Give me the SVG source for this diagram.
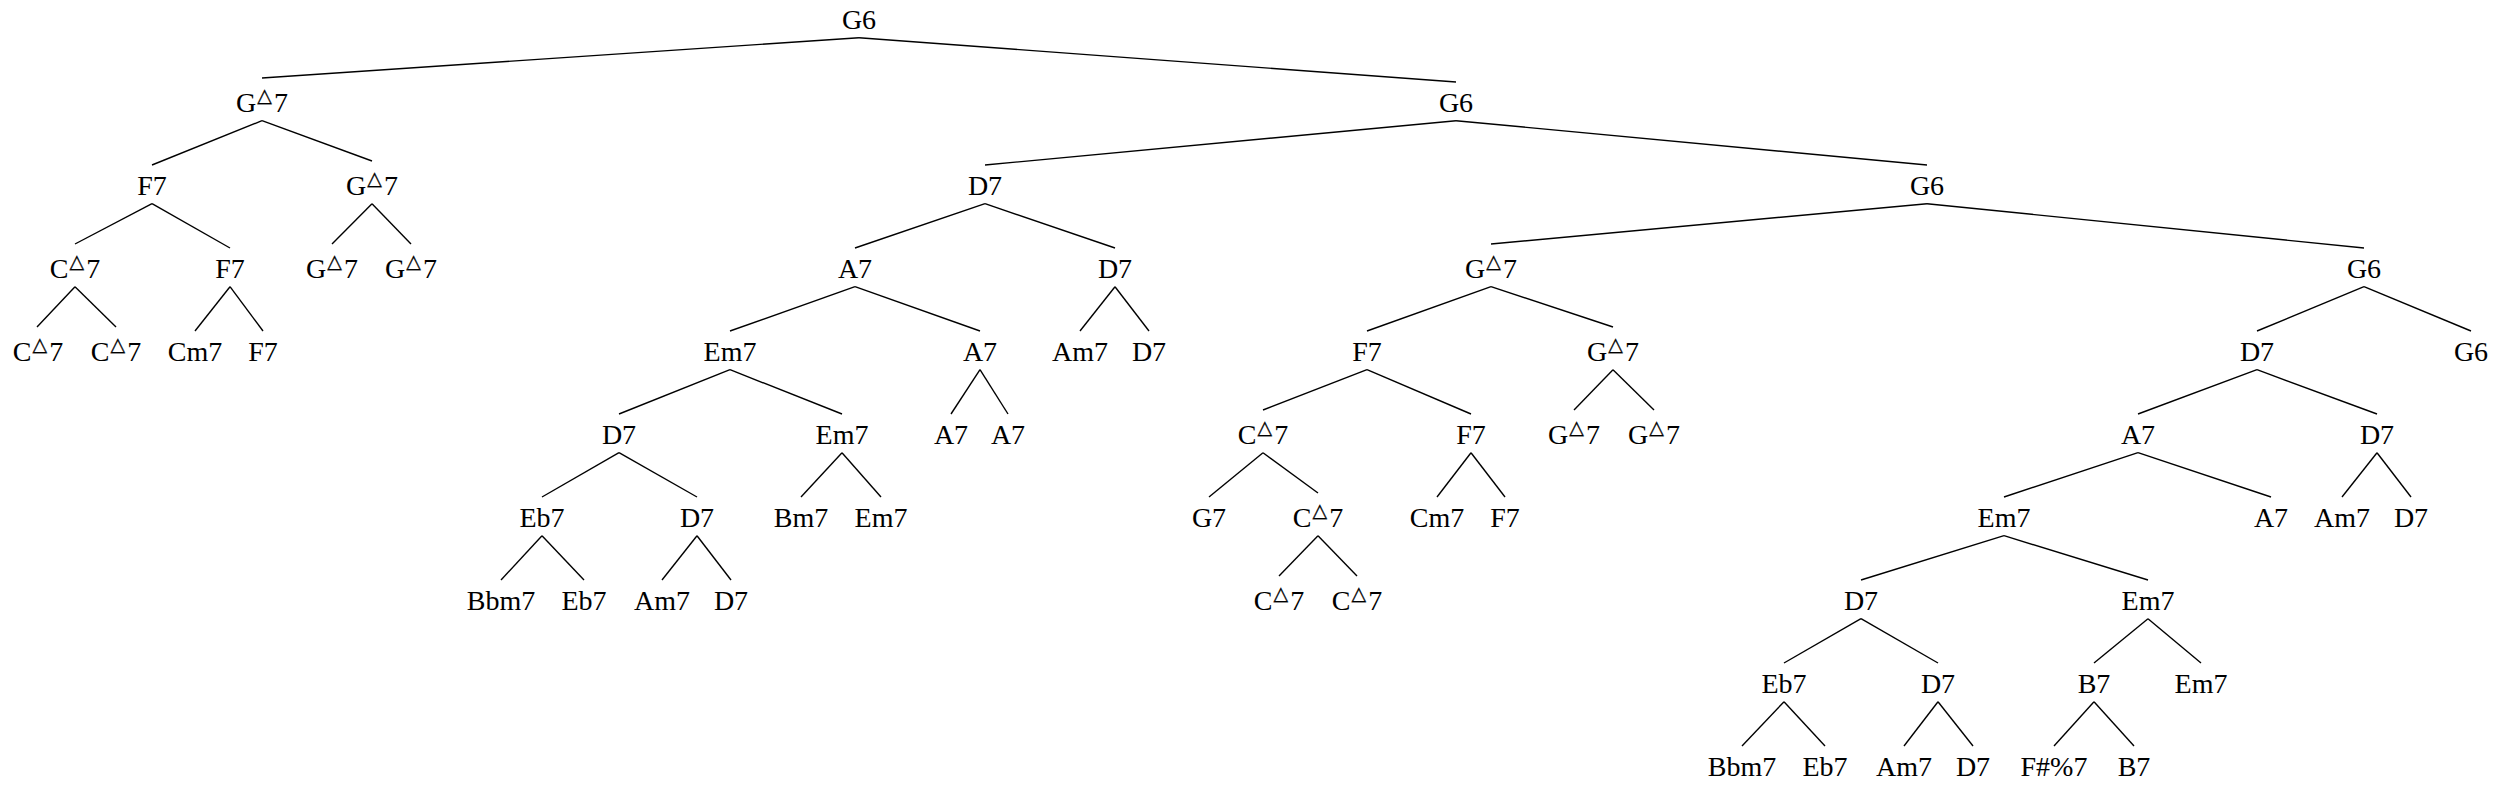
<svg xmlns="http://www.w3.org/2000/svg" width="2498" height="790" viewBox="0 0 2498 790">
<style>
text{font-family:"Liberation Serif","Times New Roman",serif;font-size:28px;fill:#000;text-anchor:middle}
.t{font-family:"DejaVu Sans",sans-serif;font-size:19px;stroke:#000;stroke-width:0.3}
#edges line{stroke:#000;stroke-width:1.4}
</style>
<rect width="2498" height="790" fill="#fff"/>
<g id="edges">
<line x1="859" y1="37.7" x2="262" y2="78"/>
<line x1="859" y1="37.7" x2="1456" y2="82"/>
<line x1="262" y1="120.7" x2="152" y2="165"/>
<line x1="262" y1="120.7" x2="372" y2="161"/>
<line x1="152" y1="203.7" x2="75" y2="244"/>
<line x1="152" y1="203.7" x2="230" y2="248"/>
<line x1="372" y1="203.7" x2="332" y2="244"/>
<line x1="372" y1="203.7" x2="411" y2="244"/>
<line x1="75" y1="286.7" x2="37" y2="327"/>
<line x1="75" y1="286.7" x2="116" y2="327"/>
<line x1="230" y1="286.7" x2="195" y2="331"/>
<line x1="230" y1="286.7" x2="263" y2="331"/>
<line x1="1456" y1="120.7" x2="985" y2="165"/>
<line x1="1456" y1="120.7" x2="1927" y2="165"/>
<line x1="985" y1="203.7" x2="855" y2="248"/>
<line x1="985" y1="203.7" x2="1115" y2="248"/>
<line x1="855" y1="286.7" x2="730" y2="331"/>
<line x1="855" y1="286.7" x2="980" y2="331"/>
<line x1="1115" y1="286.7" x2="1080" y2="331"/>
<line x1="1115" y1="286.7" x2="1149" y2="331"/>
<line x1="730" y1="369.7" x2="619" y2="414"/>
<line x1="730" y1="369.7" x2="842" y2="414"/>
<line x1="980" y1="369.7" x2="951" y2="414"/>
<line x1="980" y1="369.7" x2="1008" y2="414"/>
<line x1="619" y1="452.7" x2="542" y2="497"/>
<line x1="619" y1="452.7" x2="697" y2="497"/>
<line x1="842" y1="452.7" x2="801" y2="497"/>
<line x1="842" y1="452.7" x2="881" y2="497"/>
<line x1="542" y1="535.7" x2="501" y2="580"/>
<line x1="542" y1="535.7" x2="584" y2="580"/>
<line x1="697" y1="535.7" x2="662" y2="580"/>
<line x1="697" y1="535.7" x2="731" y2="580"/>
<line x1="1927" y1="203.7" x2="1491" y2="244"/>
<line x1="1927" y1="203.7" x2="2364" y2="248"/>
<line x1="1491" y1="286.7" x2="1367" y2="331"/>
<line x1="1491" y1="286.7" x2="1613" y2="327"/>
<line x1="1367" y1="369.7" x2="1263" y2="410"/>
<line x1="1367" y1="369.7" x2="1471" y2="414"/>
<line x1="1613" y1="369.7" x2="1574" y2="410"/>
<line x1="1613" y1="369.7" x2="1654" y2="410"/>
<line x1="1263" y1="452.7" x2="1209" y2="497"/>
<line x1="1263" y1="452.7" x2="1318" y2="493"/>
<line x1="1471" y1="452.7" x2="1437" y2="497"/>
<line x1="1471" y1="452.7" x2="1505" y2="497"/>
<line x1="1318" y1="535.7" x2="1279" y2="576"/>
<line x1="1318" y1="535.7" x2="1357" y2="576"/>
<line x1="2364" y1="286.7" x2="2257" y2="331"/>
<line x1="2364" y1="286.7" x2="2471" y2="331"/>
<line x1="2257" y1="369.7" x2="2138" y2="414"/>
<line x1="2257" y1="369.7" x2="2377" y2="414"/>
<line x1="2138" y1="452.7" x2="2004" y2="497"/>
<line x1="2138" y1="452.7" x2="2271" y2="497"/>
<line x1="2377" y1="452.7" x2="2342" y2="497"/>
<line x1="2377" y1="452.7" x2="2411" y2="497"/>
<line x1="2004" y1="535.7" x2="1861" y2="580"/>
<line x1="2004" y1="535.7" x2="2148" y2="580"/>
<line x1="1861" y1="618.7" x2="1784" y2="663"/>
<line x1="1861" y1="618.7" x2="1938" y2="663"/>
<line x1="2148" y1="618.7" x2="2094" y2="663"/>
<line x1="2148" y1="618.7" x2="2201" y2="663"/>
<line x1="1784" y1="701.7" x2="1742" y2="746"/>
<line x1="1784" y1="701.7" x2="1825" y2="746"/>
<line x1="1938" y1="701.7" x2="1904" y2="746"/>
<line x1="1938" y1="701.7" x2="1973" y2="746"/>
<line x1="2094" y1="701.7" x2="2054" y2="746"/>
<line x1="2094" y1="701.7" x2="2134" y2="746"/>
</g>
<g id="n0"><text x="859" y="28.5">G6</text></g>
<g id="n1"><text x="262" y="111.5">G<tspan class="t" dx="1" dy="-10">△</tspan><tspan dx="2" dy="10">7</tspan></text></g>
<g id="n2"><text x="1456" y="111.5">G6</text></g>
<g id="n3"><text x="152" y="194.5">F7</text></g>
<g id="n4"><text x="372" y="194.5">G<tspan class="t" dx="1" dy="-10">△</tspan><tspan dx="2" dy="10">7</tspan></text></g>
<g id="n5"><text x="75" y="277.5">C<tspan class="t" dx="1" dy="-10">△</tspan><tspan dx="2" dy="10">7</tspan></text></g>
<g id="n6"><text x="230" y="277.5">F7</text></g>
<g id="n7"><text x="332" y="277.5">G<tspan class="t" dx="1" dy="-10">△</tspan><tspan dx="2" dy="10">7</tspan></text></g>
<g id="n8"><text x="411" y="277.5">G<tspan class="t" dx="1" dy="-10">△</tspan><tspan dx="2" dy="10">7</tspan></text></g>
<g id="n9"><text x="38" y="360.5">C<tspan class="t" dx="1" dy="-10">△</tspan><tspan dx="2" dy="10">7</tspan></text></g>
<g id="n10"><text x="116" y="360.5">C<tspan class="t" dx="1" dy="-10">△</tspan><tspan dx="2" dy="10">7</tspan></text></g>
<g id="n11"><text x="195" y="360.5">Cm7</text></g>
<g id="n12"><text x="263" y="360.5">F7</text></g>
<g id="n13"><text x="985" y="194.5">D7</text></g>
<g id="n14"><text x="1927" y="194.5">G6</text></g>
<g id="n15"><text x="855" y="277.5">A7</text></g>
<g id="n16"><text x="1115" y="277.5">D7</text></g>
<g id="n17"><text x="730" y="360.5">Em7</text></g>
<g id="n18"><text x="980" y="360.5">A7</text></g>
<g id="n19"><text x="1080" y="360.5">Am7</text></g>
<g id="n20"><text x="1149" y="360.5">D7</text></g>
<g id="n21"><text x="619" y="443.5">D7</text></g>
<g id="n22"><text x="842" y="443.5">Em7</text></g>
<g id="n23"><text x="951" y="443.5">A7</text></g>
<g id="n24"><text x="1008" y="443.5">A7</text></g>
<g id="n25"><text x="542" y="526.5">Eb7</text></g>
<g id="n26"><text x="697" y="526.5">D7</text></g>
<g id="n27"><text x="801" y="526.5">Bm7</text></g>
<g id="n28"><text x="881" y="526.5">Em7</text></g>
<g id="n29"><text x="501" y="609.5">Bbm7</text></g>
<g id="n30"><text x="584" y="609.5">Eb7</text></g>
<g id="n31"><text x="662" y="609.5">Am7</text></g>
<g id="n32"><text x="731" y="609.5">D7</text></g>
<g id="n33"><text x="1491" y="277.5">G<tspan class="t" dx="1" dy="-10">△</tspan><tspan dx="2" dy="10">7</tspan></text></g>
<g id="n34"><text x="2364" y="277.5">G6</text></g>
<g id="n35"><text x="1367" y="360.5">F7</text></g>
<g id="n36"><text x="1613" y="360.5">G<tspan class="t" dx="1" dy="-10">△</tspan><tspan dx="2" dy="10">7</tspan></text></g>
<g id="n37"><text x="1263" y="443.5">C<tspan class="t" dx="1" dy="-10">△</tspan><tspan dx="2" dy="10">7</tspan></text></g>
<g id="n38"><text x="1471" y="443.5">F7</text></g>
<g id="n39"><text x="1574" y="443.5">G<tspan class="t" dx="1" dy="-10">△</tspan><tspan dx="2" dy="10">7</tspan></text></g>
<g id="n40"><text x="1654" y="443.5">G<tspan class="t" dx="1" dy="-10">△</tspan><tspan dx="2" dy="10">7</tspan></text></g>
<g id="n41"><text x="1209" y="526.5">G7</text></g>
<g id="n42"><text x="1318" y="526.5">C<tspan class="t" dx="1" dy="-10">△</tspan><tspan dx="2" dy="10">7</tspan></text></g>
<g id="n43"><text x="1437" y="526.5">Cm7</text></g>
<g id="n44"><text x="1505" y="526.5">F7</text></g>
<g id="n45"><text x="1279" y="609.5">C<tspan class="t" dx="1" dy="-10">△</tspan><tspan dx="2" dy="10">7</tspan></text></g>
<g id="n46"><text x="1357" y="609.5">C<tspan class="t" dx="1" dy="-10">△</tspan><tspan dx="2" dy="10">7</tspan></text></g>
<g id="n47"><text x="2257" y="360.5">D7</text></g>
<g id="n48"><text x="2471" y="360.5">G6</text></g>
<g id="n49"><text x="2138" y="443.5">A7</text></g>
<g id="n50"><text x="2377" y="443.5">D7</text></g>
<g id="n51"><text x="2004" y="526.5">Em7</text></g>
<g id="n52"><text x="2271" y="526.5">A7</text></g>
<g id="n53"><text x="2342" y="526.5">Am7</text></g>
<g id="n54"><text x="2411" y="526.5">D7</text></g>
<g id="n55"><text x="1861" y="609.5">D7</text></g>
<g id="n56"><text x="2148" y="609.5">Em7</text></g>
<g id="n57"><text x="1784" y="692.5">Eb7</text></g>
<g id="n58"><text x="1938" y="692.5">D7</text></g>
<g id="n59"><text x="2094" y="692.5">B7</text></g>
<g id="n60"><text x="2201" y="692.5">Em7</text></g>
<g id="n61"><text x="1742" y="775.5">Bbm7</text></g>
<g id="n62"><text x="1825" y="775.5">Eb7</text></g>
<g id="n63"><text x="1904" y="775.5">Am7</text></g>
<g id="n64"><text x="1973" y="775.5">D7</text></g>
<g id="n65"><text x="2054" y="775.5">F#%7</text></g>
<g id="n66"><text x="2134" y="775.5">B7</text></g>
</svg>
